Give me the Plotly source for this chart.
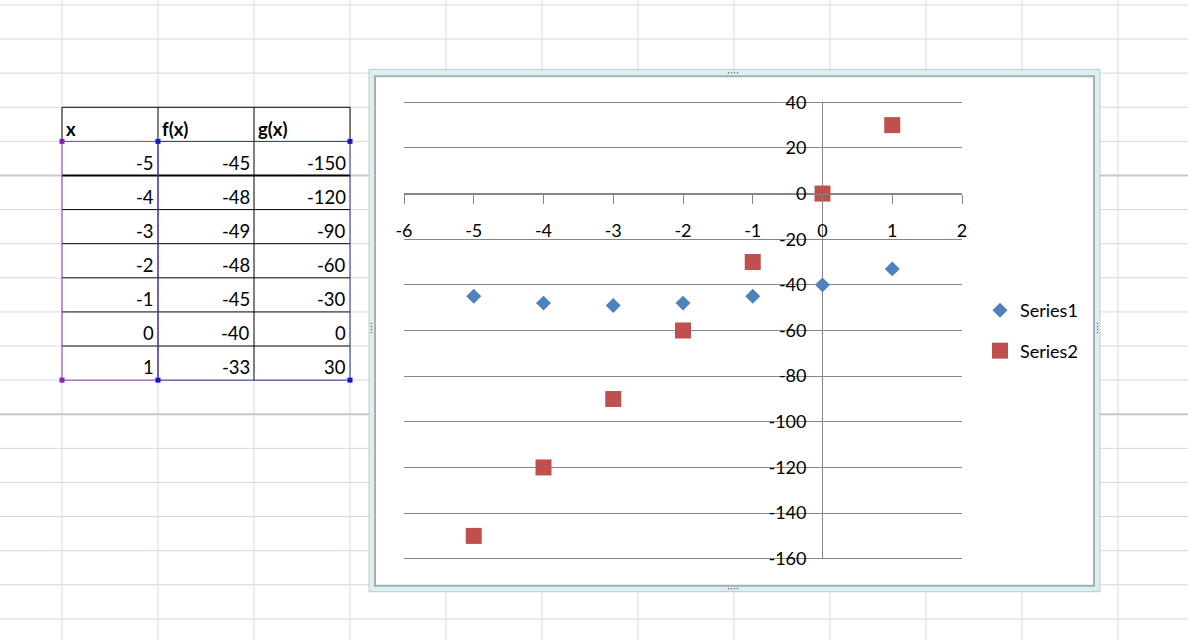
import plotly.graph_objects as go

# ---------------- data ----------------
x_vals = [-5, -4, -3, -2, -1, 0, 1]
f_vals = [-45, -48, -49, -48, -45, -40, -33]
g_vals = [-150, -120, -90, -60, -30, 0, 30]
headers = ["x", "f(x)", "g(x)"]
series_names = ["Series1", "Series2"]
x_tick_vals = [-6, -5, -4, -3, -2, -1, 0, 1, 2]
x_tick_text = ["-6", "-5", "-4", "-3", "-2", "-1", "0", "1", "2"]
y_tick_vals = [40, 20, 0, -20, -40, -60, -80, -100, -120, -140, -160]
y_tick_text = ["40", "20", "0", "-20", "-40", "-60", "-80", "-100", "-120", "-140", "-160"]

# ---------------- geometry (pixels) ----------------
W, H = 1188, 640
PPU = 2.285           # pixels per y unit
EXT = 1.0             # small y-range extension so edge gridlines render
L, R = 404, 962
T, B = 102 - EXT * PPU, 559 + EXT * PPU
FONT = "Lato"


def px(xp):
    return (xp - L) / (R - L)


def py(yp):
    return (B - yp) / (B - T)


shapes = []


def line(x0, y0, x1, y1, color, width=1):
    shapes.append(dict(type="line", xref="paper", yref="paper", layer="below",
                       x0=px(x0), y0=py(y0), x1=px(x1), y1=py(y1),
                       line=dict(color=color, width=width)))


def rect(x0, y0, x1, y1, fill, color=None, width=0):
    shapes.append(dict(type="rect", xref="paper", yref="paper", layer="below",
                       x0=px(x0), y0=py(y0), x1=px(x1), y1=py(y1),
                       fillcolor=fill,
                       line=dict(color=color or fill, width=width)))


# spreadsheet grid
GRID = "#D6D9DF"
col_w, row_h = 96, 34.15
col_x = [62 + col_w * k for k in range(12)]
row_y = [107 + row_h * k for k in range(-3, 16)]
for xg in col_x:
    line(xg, 0, xg, H, GRID)
for yg in row_y:
    dark = abs(yg - 175.3) < 2 or abs(yg - 414) < 2
    line(0, yg, W, yg, "#C3C8CF" if dark else GRID, 2 if dark else 1)

# table
tx = [62, 158, 254, 350]
ty = [107 + row_h * k for k in range(9)]
rect(62, 107, 350, ty[-1], "white")
for xg in tx:
    line(xg, ty[0], xg, ty[1], "black")
line(62, ty[0], 350, ty[0], "black")
for i, yg in enumerate(ty[2:-1]):
    line(62, yg, 350, yg, "black", 2 if i == 0 else 1)
line(254, ty[1], 254, ty[-1], "black")
PURPLE, BLUE = "#8A2BB0", "#22229A"
shapes.append(dict(type="rect", xref="paper", yref="paper", layer="below",
                   x0=px(62), y0=py(ty[1]), x1=px(158), y1=py(ty[-1]),
                   line=dict(color=PURPLE, width=1)))
shapes.append(dict(type="rect", xref="paper", yref="paper", layer="below",
                   x0=px(158), y0=py(ty[1]), x1=px(350), y1=py(ty[-1]),
                   line=dict(color=BLUE, width=1)))
for (hx, hy, c) in [(62, ty[1], "#8A1FB8"), (62, ty[-1], "#8A1FB8"),
                    (158, ty[1], "#1515CC"), (350, ty[1], "#1515CC"),
                    (158, ty[-1], "#1515CC"), (350, ty[-1], "#1515CC")]:
    rect(hx - 2.5, hy - 2.5, hx + 2.5, hy + 2.5, c)

annotations = []
for j, h in enumerate(headers):
    annotations.append(dict(xref="paper", yref="paper", x=px(tx[j] + 2), y=py(ty[1] - 12.5),
                            xanchor="left", yanchor="middle", showarrow=False,
                            text="<b>%s</b>" % h, font=dict(family=FONT, size=18.5, color="black")))
cols = [x_vals, f_vals, g_vals]
for j, colv in enumerate(cols):
    for i, v in enumerate(colv):
        annotations.append(dict(xref="paper", yref="paper", x=px(tx[j + 1] - 2), y=py(ty[i + 2] - 13),
                                xanchor="right", yanchor="middle", showarrow=False,
                                text=str(v), font=dict(family=FONT, size=18.5, color="black")))

# chart frame
rect(369, 69, 1100, 592, "#DDEFF1", "#B9CCCF", 1)
rect(375, 76, 1094, 586, "white", "#A3AFB0", 2)
for (hx, hy, vert) in [(733, 72.5, False), (733, 589, False), (371.5, 328, True), (1097.5, 328, True)]:
    for k in range(4):
        cx = hx + (0 if vert else (k - 1.5) * 3)
        cy = hy + ((k - 1.5) * 3 if vert else 0)
        rect(cx - 0.6, cy - 0.6, cx + 0.6, cy + 0.6, "#555555")

# ---------------- chart ----------------
fig = go.Figure()
fig.add_trace(go.Scatter(x=x_vals, y=f_vals, mode="markers", name=series_names[0],
                         legendgroup="a",
                         marker=dict(symbol="diamond", size=11.5, color="#4F81BD",
                                     line=dict(width=0))))
fig.add_trace(go.Scatter(x=x_vals, y=g_vals, mode="markers", name=series_names[1],
                         legendgroup="b",
                         marker=dict(symbol="square", size=16, color="#C0504D",
                                     line=dict(width=0))))

AX = "#868686"
ymin, ymax = -160 - EXT, 40 + EXT
fig.update_layout(
    width=W, height=H, autosize=False,
    margin=dict(l=L, r=W - R, t=T, b=H - B, pad=0),
    paper_bgcolor="white", plot_bgcolor="rgba(0,0,0,0)",
    font=dict(family=FONT, size=18, color="black"),
    shapes=shapes, annotations=annotations,
    showlegend=True,
    legend=dict(x=px(980), y=py(292), xanchor="left", yanchor="top",
                font=dict(family=FONT, size=18, color="black"),
                tracegroupgap=14, bgcolor="rgba(0,0,0,0)", itemsizing="trace"),
    xaxis=dict(range=[-6, 2], tickmode="array", tickvals=x_tick_vals, ticktext=x_tick_text,
               showgrid=False, zeroline=False, showline=True, linecolor=AX, linewidth=1,
               ticks="outside", ticklen=9, tickcolor=AX, tickwidth=1,
               anchor="free", position=(0 - ymin) / (ymax - ymin), side="bottom",
               ticklabelstandoff=12,
               tickfont=dict(family=FONT, size=18, color="black")),
    yaxis=dict(range=[ymin, ymax], tickmode="array", tickvals=y_tick_vals, ticktext=y_tick_text,
               showgrid=True, gridcolor=AX, gridwidth=1, zeroline=False,
               showline=False, ticks="",
               anchor="free", position=0.75, side="left", ticklabelstandoff=16,
               tickfont=dict(family=FONT, size=18, color="black")),
)
# vertical axis line at x = 0 spanning -160..40, drawn in data coordinates
fig.add_shape(type="line", xref="x", yref="y", x0=0, x1=0, y0=-160, y1=40,
              line=dict(color=AX, width=1), layer="between")

fig.write_html("out.html", config={"displayModeBar": False},
               post_script="document.body.style.margin='0';document.body.style.overflow='hidden';")
